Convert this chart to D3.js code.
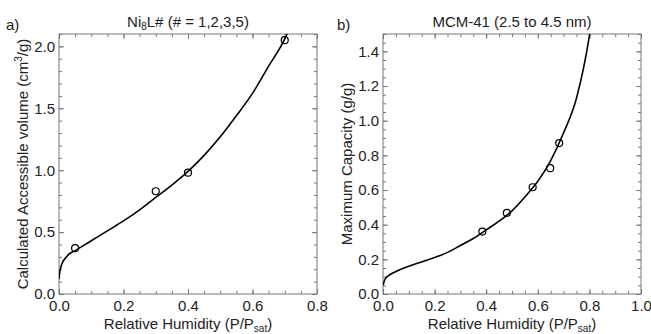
<!DOCTYPE html>
<html>
<head>
<meta charset="utf-8">
<script src="https://cdn.jsdelivr.net/npm/d3@7"></script>
<style>
  body { margin: 0; background: #fff; }
  svg { font-family: "Liberation Sans", Arial, sans-serif; }
  .tick text { font-size: 15px; fill: #222; }
  .tick line { stroke: #777; }
</style>
</head>
<body>
<svg id="chart" width="651" height="334"></svg>
<script>
// panel a) Ni8L# data points
const aPointsX = [0.05, 0.30, 0.40, 0.70];
const aPointsY = [0.37, 0.83, 0.98, 2.05];
// panel a) fitted curve
const aCurveX = [0, 0.002, 0.005, 0.01, 0.02, 0.03, 0.05, 0.1, 0.15, 0.2, 0.25, 0.3, 0.35, 0.4, 0.45, 0.5, 0.55, 0.6, 0.65, 0.7, 0.72];
const aCurveY = [0.12, 0.17, 0.21, 0.25, 0.29, 0.32, 0.35, 0.43, 0.51, 0.59, 0.68, 0.78, 0.88, 0.99, 1.12, 1.27, 1.44, 1.62, 1.84, 2.06, 2.18];
const aTicksX = [0, 0.2, 0.4, 0.6, 0.8];
const aTicksY = [0, 0.5, 1.0, 1.5, 2.0];

// panel b) MCM-41 data points
const bPointsX = [0.385, 0.48, 0.58, 0.648, 0.683];
const bPointsY = [0.36, 0.468, 0.616, 0.726, 0.871];
// panel b) fitted curve
const bCurveX = [0, 0.005, 0.01, 0.02, 0.05, 0.1, 0.15, 0.2, 0.25, 0.3, 0.35, 0.4, 0.45, 0.5, 0.55, 0.6, 0.65, 0.7, 0.75, 0.8, 0.82];
const bCurveY = [0.05, 0.075, 0.09, 0.105, 0.13, 0.16, 0.185, 0.21, 0.24, 0.28, 0.32, 0.37, 0.42, 0.48, 0.56, 0.65, 0.77, 0.93, 1.13, 1.49, 1.70];
const bTicksX = [0, 0.2, 0.4, 0.6, 0.8, 1.0];
const bTicksY = [0, 0.2, 0.4, 0.6, 0.8, 1.0, 1.2, 1.4];

const svg = d3.select('#chart');
const plotTop = 34, plotBottom = 294;

const panels = [
  {
    id: 'a', left: 59, right: 317, xMax: 0.8, yMax: 2.1,
    xTicks: aTicksX, yTicks: aTicksY, xMinor: 0.05, yMinor: 0.1,
    px: aPointsX, py: aPointsY, cx: aCurveX, cy: aCurveY,
    tag: 'a)', tagX: 6, yLabelX: 28,
    title: [{ t: 'Ni' }, { t: '8', sub: true }, { t: 'L# (# = 1,2,3,5)' }],
    yLabel: [{ t: 'Calculated Accessible volume (cm' }, { t: '3', sup: true }, { t: '/g)' }],
    fmt: d3.format('.1f')
  },
  {
    id: 'b', left: 383, right: 641, xMax: 1.0, yMax: 1.5,
    xTicks: bTicksX, yTicks: bTicksY, xMinor: 0.05, yMinor: 0.05,
    px: bPointsX, py: bPointsY, cx: bCurveX, cy: bCurveY,
    tag: 'b)', tagX: 337, yLabelX: 352,
    title: [{ t: 'MCM-41 (2.5 to 4.5 nm)' }],
    yLabel: [{ t: 'Maximum Capacity (g/g)' }],
    fmt: d3.format('.1f')
  }
];

// text runs with sub/superscripts
function addRuns(textSel, runs) {
  runs.forEach((r, i) => {
    const ts = textSel.append('tspan').text(r.t);
    if (r.sub) ts.attr('font-size', '10px').attr('dy', 3);
    if (r.sup) ts.attr('font-size', '10px').attr('dy', -6);
    if (i > 0 && runs[i - 1].sub) ts.attr('dy', -3);
    if (i > 0 && runs[i - 1].sup) ts.attr('dy', 6);
  });
}

panels.forEach((p) => {
  const x = d3.scaleLinear().domain([0, p.xMax]).range([p.left, p.right]);
  const y = d3.scaleLinear().domain([0, p.yMax]).range([plotBottom, plotTop]);
  const g = svg.append('g');

  const xMinorTicks = d3.range(0, p.xMax + 1e-9, p.xMinor);
  const yMinorTicks = d3.range(0, p.yMax + 1e-9, p.yMinor);

  // minor ticks, all four sides, pointing in
  g.append('g').attr('transform', `translate(0,${plotBottom})`)
    .call(d3.axisBottom(x).tickValues(xMinorTicks).tickSize(-3).tickFormat(''));
  g.append('g').attr('transform', `translate(0,${plotTop})`)
    .call(d3.axisTop(x).tickValues(xMinorTicks).tickSize(-3).tickFormat(''));
  g.append('g').attr('transform', `translate(${p.left},0)`)
    .call(d3.axisLeft(y).tickValues(yMinorTicks).tickSize(-3).tickFormat(''));
  g.append('g').attr('transform', `translate(${p.right},0)`)
    .call(d3.axisRight(y).tickValues(yMinorTicks).tickSize(-3).tickFormat(''));

  // major ticks with labels
  g.append('g').attr('transform', `translate(0,${plotBottom})`)
    .call(d3.axisBottom(x).tickValues(p.xTicks).tickSize(-5).tickPadding(6).tickFormat(p.fmt));
  g.append('g').attr('transform', `translate(0,${plotTop})`)
    .call(d3.axisTop(x).tickValues(p.xTicks).tickSize(-5).tickFormat(''));
  g.append('g').attr('transform', `translate(${p.left},0)`)
    .call(d3.axisLeft(y).tickValues(p.yTicks).tickSize(-5).tickPadding(4).tickFormat(p.fmt));
  g.append('g').attr('transform', `translate(${p.right},0)`)
    .call(d3.axisRight(y).tickValues(p.yTicks).tickSize(-5).tickFormat(''));

  g.selectAll('.domain').remove();

  // frame
  g.append('rect')
    .attr('x', p.left).attr('y', plotTop)
    .attr('width', p.right - p.left).attr('height', plotBottom - plotTop)
    .attr('fill', 'none').attr('stroke', '#777').attr('stroke-width', 1);

  // clipped curve
  g.append('clipPath').attr('id', 'clip-' + p.id)
    .append('rect')
    .attr('x', p.left).attr('y', plotTop)
    .attr('width', p.right - p.left).attr('height', plotBottom - plotTop);

  const curve = p.cx.map((v, i) => [v, p.cy[i]]);
  const line = d3.line()
    .x((d) => x(d[0]))
    .y((d) => y(d[1]))
    .curve(d3.curveMonotoneX);

  g.append('path')
    .datum(curve)
    .attr('clip-path', `url(#clip-${p.id})`)
    .attr('d', line)
    .attr('fill', 'none')
    .attr('stroke', '#000')
    .attr('stroke-width', 1.6);

  const pts = p.px.map((v, i) => [v, p.py[i]]);
  g.selectAll('circle.pt')
    .data(pts)
    .enter()
    .append('circle')
    .attr('class', 'pt')
    .attr('cx', (d) => x(d[0]))
    .attr('cy', (d) => y(d[1]))
    .attr('r', 3.5)
    .attr('fill', 'none')
    .attr('stroke', '#000')
    .attr('stroke-width', 1.2);

  // title
  const title = g.append('text')
    .attr('x', (p.left + p.right) / 2)
    .attr('y', 27)
    .attr('text-anchor', 'middle')
    .attr('font-size', '15px')
    .attr('fill', '#222');
  addRuns(title, p.title);

  // panel tag
  g.append('text')
    .attr('x', p.tagX).attr('y', 30)
    .attr('font-size', '15px')
    .attr('fill', '#222')
    .text(p.tag);

  // x label
  const xl = g.append('text')
    .attr('x', (p.left + p.right) / 2)
    .attr('y', 329)
    .attr('text-anchor', 'middle')
    .attr('font-size', '15px')
    .attr('fill', '#222');
  addRuns(xl, [{ t: 'Relative Humidity (P/P' }, { t: 'sat', sub: true }, { t: ')' }]);

  // y label
  const yl = g.append('text')
    .attr('transform', `translate(${p.yLabelX},${(plotTop + plotBottom) / 2}) rotate(-90)`)
    .attr('text-anchor', 'middle')
    .attr('font-size', '15px')
    .attr('fill', '#222');
  addRuns(yl, p.yLabel);
});
</script>
</body>
</html>
